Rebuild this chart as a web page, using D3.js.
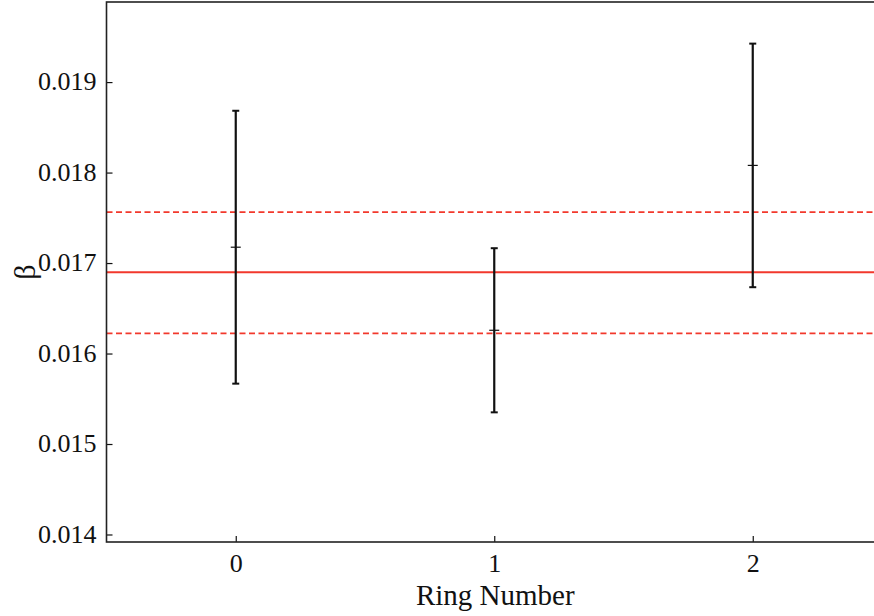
<!DOCTYPE html>
<html>

<head>
    <title>Beta per ring</title>
    <meta charset='utf-8'>
    <style>
        body {
            margin: 0;
            background: white;
        }

        text {
            font-family: "Liberation Serif", "DejaVu Serif", serif;
            fill: #111;
        }
    </style>
</head>

<script src="https://d3js.org/d3.v7.min.js"></script>

<div id="my_dataviz"></div>

<script>
    // values
    const rings = [0, 1, 2]
    const beta = [0.017175, 0.016257, 0.018079]
    const betaErr = [0.001508, 0.000907, 0.001346]
    const meanBeta = 0.016898
    const meanBand = [0.016223, 0.017562]
    const yTicks = [0.014, 0.015, 0.016, 0.017, 0.018, 0.019]

    const W = 874,
        H = 616
    const margin = {
            top: 2,
            right: -8,
            bottom: 74,
            left: 106.5
        },
        width = W - margin.left - margin.right,
        height = H - margin.top - margin.bottom;

    const serif = '"Liberation Serif", "DejaVu Serif", serif'

    const svg = d3.select("#my_dataviz")
        .append("svg")
        .attr("width", W)
        .attr("height", H)
        .append("g")
        .attr("transform", `translate(${margin.left}, ${margin.top})`);

    const x = d3.scaleLinear()
        .domain([-0.5, 2.5])
        .range([0, width])

    const y = d3.scaleLinear()
        .domain([0.013917, 0.019885])
        .range([height, 0])

    const red = "#f2382c"

    // mean line and its band
    svg.append("line")
        .attr("x1", 0).attr("x2", width)
        .attr("y1", y(meanBeta)).attr("y2", y(meanBeta))
        .attr("stroke", red)
        .attr("stroke-width", 1.8)

    svg.selectAll(".band")
        .data(meanBand)
        .join("line")
        .attr("class", "band")
        .attr("x1", 0).attr("x2", width)
        .attr("y1", d => y(d)).attr("y2", d => y(d))
        .attr("stroke", red)
        .attr("stroke-width", 1.8)
        .attr("stroke-dasharray", "6,3.5")

    // error bars
    const pts = rings.map((r, i) => ({ r: r, v: beta[i], e: betaErr[i] }))
    const bars = svg.append("g")
        .selectAll("g")
        .data(pts)
        .join("g")
        .attr("stroke", "#111")

    bars.append("line")
        .attr("x1", d => x(d.r)).attr("x2", d => x(d.r))
        .attr("y1", d => y(d.v + d.e)).attr("y2", d => y(d.v - d.e))
        .attr("stroke-width", 2.2)
    bars.selectAll(".cap")
        .data(d => [{ r: d.r, v: d.v + d.e }, { r: d.r, v: d.v - d.e }])
        .join("line")
        .attr("class", "cap")
        .attr("x1", d => x(d.r) - 3.5).attr("x2", d => x(d.r) + 3.5)
        .attr("y1", d => y(d.v)).attr("y2", d => y(d.v))
        .attr("stroke-width", 2)
    bars.append("line")
        .attr("x1", d => x(d.r) - 5).attr("x2", d => x(d.r) + 5)
        .attr("y1", d => y(d.v)).attr("y2", d => y(d.v))
        .attr("stroke-width", 1.2)

    // axes, ticks pointing inward
    const yAxis = svg.append("g")
        .call(d3.axisLeft(y).tickValues(yTicks).tickFormat(d3.format(".3f"))
            .tickSizeInner(-6).tickSizeOuter(0).tickPadding(10))
    yAxis.attr("font-family", serif).attr("font-size", 26)
    yAxis.select(".domain").remove()
    yAxis.selectAll("text").attr("dy", "0.3em")

    const xAxis = svg.append("g")
        .attr("transform", `translate(0, ${height})`)
        .call(d3.axisBottom(x).tickValues(rings).tickFormat(d3.format("d"))
            .tickSizeInner(-6).tickSizeOuter(0).tickPadding(12))
    xAxis.attr("font-family", serif).attr("font-size", 26)
    xAxis.select(".domain").remove()
    svg.selectAll(".tick line").attr("stroke", "#111").attr("stroke-width", 1.2)

    // frame
    svg.append("rect")
        .attr("width", width)
        .attr("height", height)
        .attr("fill", "none")
        .attr("stroke", "#222")
        .attr("stroke-width", 1.6)

    // Add X axis label:
    svg.append("text")
        .attr("text-anchor", "middle")
        .attr("x", x(1) + 1)
        .attr("y", height + 63)
        .style("font-size", "29px")
        .text("Ring Number");

    // Y axis label:
    svg.append("text")
        .attr("text-anchor", "middle")
        .attr("transform", "rotate(-90)")
        .attr("y", -margin.left + 35)
        .attr("x", -y(0.0169))
        .style("font-size", "30px")
        .text("β")
</script>

</html>
